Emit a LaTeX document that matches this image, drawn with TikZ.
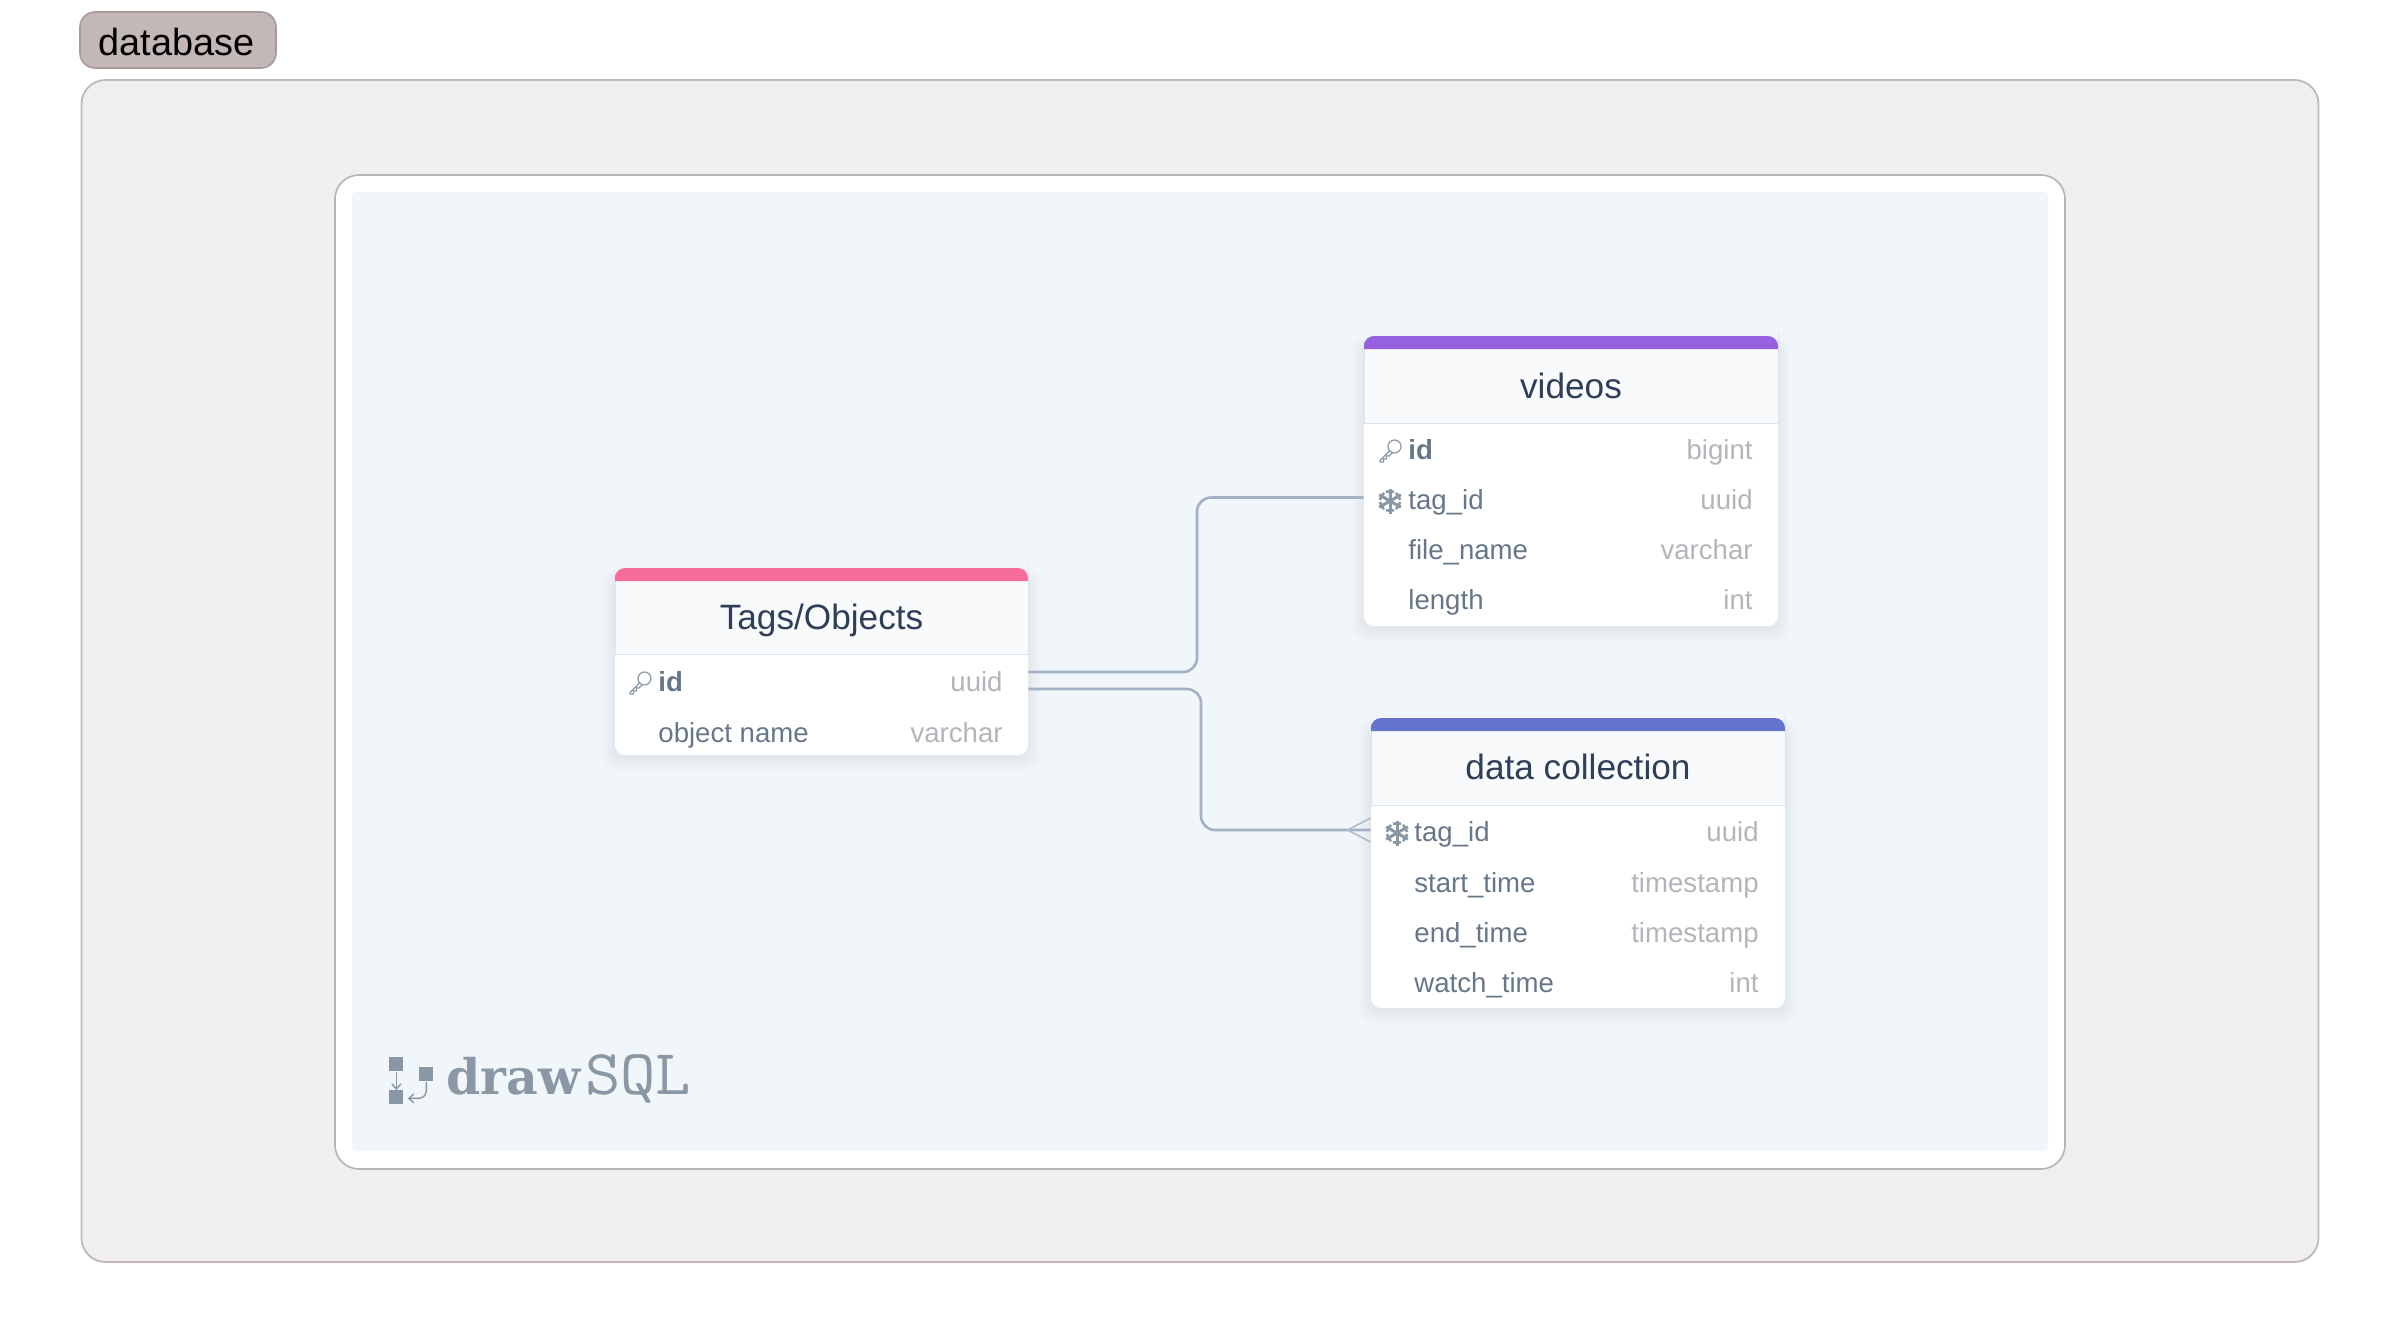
\documentclass[tikz,border=0pt]{standalone}
\usepackage{fontspec}
\setmainfont{Liberation Sans}
\newfontfamily\logoslab{DejaVu Serif}
\usetikzlibrary{calc,arrows.meta}
\definecolor{outerfill}{HTML}{EFEFEF}
\definecolor{outerline}{HTML}{C4B7B7}
\definecolor{badgefill}{HTML}{C4B7B7}
\definecolor{badgeline}{HTML}{A89A9A}
\definecolor{frameline}{HTML}{B4B4B4}
\definecolor{panelfill}{HTML}{F0F6F9}
\definecolor{titletext}{HTML}{2F3F57}
\definecolor{rowtext}{HTML}{67778A}
\definecolor{typetext}{HTML}{B2B6BA}
\definecolor{connline}{HTML}{A3B1C5}
\definecolor{headfill}{HTML}{F8FAFC}
\definecolor{headline}{HTML}{DDE5EF}
\definecolor{logocol}{HTML}{8A98A6}
\definecolor{barpink}{HTML}{F76D9A}
\definecolor{barpurple}{HTML}{9661E1}
\definecolor{barblue}{HTML}{6574CD}
\tikzset{
  x=0.5pt,y=-0.5pt,
  conn/.style={draw=connline,line width=1.3pt,rounded corners=7pt},
  crow/.style={draw=connline!85,line width=0.8pt},
  titlelabel/.style={anchor=base,inner sep=0pt,text=titletext,font=\fontsize{17.6}{20}\selectfont},
  namelabel/.style={anchor=base west,inner sep=0pt,text=rowtext,font=\fontsize{13.8}{16}\selectfont},
  typelabel/.style={anchor=base east,inner sep=0pt,text=typetext,font=\fontsize{13.8}{16}\selectfont},
  rowbox/.style={inner sep=0pt,minimum height=25pt,anchor=center},
  tablebody/.style={fill=white,rounded corners=5pt,draw=none,inner sep=0pt},
  pics/keyglyph/.style={code={
    \draw[logocol,line width=0.6pt,line cap=round,line join=round]
      (4.5,-4.5) circle[radius=6.5]
      (0,-0.5) -- (-10,9.5) -- (-10,11) -- (-6.5,11) -- (-6.5,8) -- (-3.5,8) -- (-3.5,5) -- (-1,5) -- (2.5,1.5);
  }},
  pics/flakeglyph/.style={code={
    \foreach \a in {90,150,210,270,330,30}{
      \draw[logocol,line width=1.5pt,line cap=butt] (0,0) -- (\a:12.5);
      \draw[logocol,line width=1.3pt] ($(\a:6.5)+(\a+55:5)$) -- (\a:9.5) -- ($(\a:6.5)+(\a-55:5)$);
    }
  }},
}
\newcommand{\softshadow}[4]{%
  \foreach \g in {14,12,10,8,6,4,2}{
    \fill[black,opacity=0.008,rounded corners=7pt]
      ({#1-\g*0.9},{#2+8-\g*0.5}) rectangle ({#3+\g*0.9},{#4+3+\g*0.9});
  }}
\newcommand{\tabletop}[7]{% x1,y1,x2,y2(bottom),barbottom,headbottom,colour
  \fill[headfill] (#1,#5) rectangle (#3,#6);
  \draw[headline,line width=0.5pt] (#1,#5) -- (#1,#6) -- (#3,#6) -- (#3,#5);
  \fill[#7] (#1,#5) [sharp corners] -- (#1,{#2+6}) [rounded corners=5pt] -- (#1,#2) -- (#3,#2) -- (#3,{#2+6}) [sharp corners] -- (#3,#5) -- cycle;
}
\newcommand{\tblrow}[8]{% name,x1,x2,baseline,textx,typex,text,type
  \node[rowbox,minimum width={(#3-#2)*0.5pt}] (#1) at ({(#2+#3)/2},{#4-8.5}) {};
  \node[namelabel] (#1n) at (#5,#4) {#7};
  \node[typelabel] (#1t) at (#6,#4) {#8};
}
\begin{document}
\begin{tikzpicture}
\useasboundingbox (0,0) rectangle (2400,1344);
\fill[white] (0,0) rectangle (2400,1344);

% group and label
\node[draw=outerline,fill=outerfill,line width=0.9pt,rounded corners=12pt,minimum width=1118.5pt,minimum height=591pt,inner sep=0pt] (group) at (1200,671) {};
\node[draw=badgeline,fill=badgefill,line width=0.8pt,rounded corners=7.5pt,minimum width=98pt,minimum height=28pt,inner sep=0pt] (badge) at (178,40) {};
\node[anchor=base west,inner sep=0pt,text=black,font=\fontsize{18.9}{22}\selectfont] (badgetext) at (98.5,55.5) {database};

% frame and panel
\node[draw=frameline,fill=white,line width=0.8pt,rounded corners=12pt,minimum width=865pt,minimum height=497pt,inner sep=0pt] (frame) at (1200,672) {};
\node[fill=panelfill,rounded corners=2pt,minimum width=848pt,minimum height=479.5pt,inner sep=0pt] (panel) at (1200,671.5) {};

% shadows
\softshadow{615}{568}{1028}{755}
\softshadow{1364}{336}{1778}{626}
\softshadow{1371}{718}{1785}{1008}

% table bodies
\node[tablebody,minimum width=206.5pt,minimum height=93.5pt] (tags) at (821.5,661.5) {};
\node[tablebody,minimum width=207pt,minimum height=145pt] (videos) at (1571,481) {};
\node[tablebody,minimum width=207pt,minimum height=145pt] (datacoll) at (1578,863) {};

\tabletop{615}{568}{1028}{755}{581}{654}{barpink}
\tabletop{1364}{336}{1778}{626}{349}{423}{barpurple}
\tabletop{1371}{718}{1785}{1008}{731}{805}{barblue}

\node[titlelabel] (tagstitle) at (821.5,629.5) {Tags/Objects};
\node[titlelabel] (videostitle) at (1571,398.5) {videos};
\node[titlelabel] (datatitle) at (1578,779.5) {data collection};

% rows
\tblrow{ta}{615}{1028}{691}{658}{1003}{\textbf{id}}{uuid}
\tblrow{tb}{615}{1028}{742}{658}{1003}{object name}{varchar}
\tblrow{va}{1364}{1778}{459}{1408}{1753}{\textbf{id}}{bigint}
\tblrow{vb}{1364}{1778}{509}{1408}{1753}{tag\_id}{uuid}
\tblrow{vc}{1364}{1778}{559}{1408}{1753}{file\_name}{varchar}
\tblrow{vd}{1364}{1778}{609}{1408}{1753}{length}{int}
\tblrow{da}{1371}{1785}{841}{1414}{1759}{tag\_id}{uuid}
\tblrow{db}{1371}{1785}{892}{1414}{1759}{start\_time}{timestamp}
\tblrow{dc}{1371}{1785}{942}{1414}{1759}{end\_time}{timestamp}
\tblrow{dd}{1371}{1785}{992}{1414}{1759}{watch\_time}{int}

% icons
\pic at (640,683) {keyglyph};
\pic at (1390,451) {keyglyph};
\pic at (1390,501) {flakeglyph};
\pic at (1397,833) {flakeglyph};

% connectors
\coordinate (bendone) at (1197,0);
\coordinate (bendtwo) at (1201,0);
\coordinate (outone) at ([yshift=5.25pt]ta.east);
\coordinate (outtwo) at ([yshift=-3.25pt]ta.east);
\coordinate (invideo) at ([yshift=1.5pt]vb.west);
\coordinate (indata) at ([yshift=1.25pt]da.west);
\draw[conn] (outone) -- (outone -| bendone) -- (bendone |- invideo) -- (invideo);
\draw[conn] (outtwo) -- (outtwo -| bendtwo) -- (bendtwo |- indata) -- (indata);
\coordinate (crowtip) at ($(indata)+(-23,0)$);
\draw[crow] ([yshift=6pt]indata) -- (crowtip) -- ([yshift=-6pt]indata);

% logo
\node[fill=logocol,minimum size=7pt,inner sep=0pt,anchor=north west] (lga) at (389,1057) {};
\node[fill=logocol,minimum size=7pt,inner sep=0pt,anchor=north west] (lgb) at (389,1090) {};
\node[fill=logocol,minimum size=7pt,inner sep=0pt,anchor=north west] (lgc) at (419,1067) {};
\draw[logocol,line width=0.7pt,-{Straight Barb[length=2.5pt,width=4.5pt]}] (lga.south) -- (lgb.north);
\draw[logocol,line width=0.7pt,rounded corners=4pt,-{Straight Barb[length=2.5pt,width=4.5pt]}] (lgc.south) |- ([xshift=2pt,yshift=-0.5pt]lgb.east);
\node[anchor=base west,inner sep=0pt,text=logocol,font=\logoslab\bfseries\fontsize{24.5}{28}\selectfont] (lgdraw) at (446,1094) {draw};
\node[anchor=base west,inner sep=0pt,text=logocol,xscale=1.07,font=\ttfamily\fontsize{32}{36}\selectfont] (lgsql) at (585,1094) {SQL};
\end{tikzpicture}
\end{document}
